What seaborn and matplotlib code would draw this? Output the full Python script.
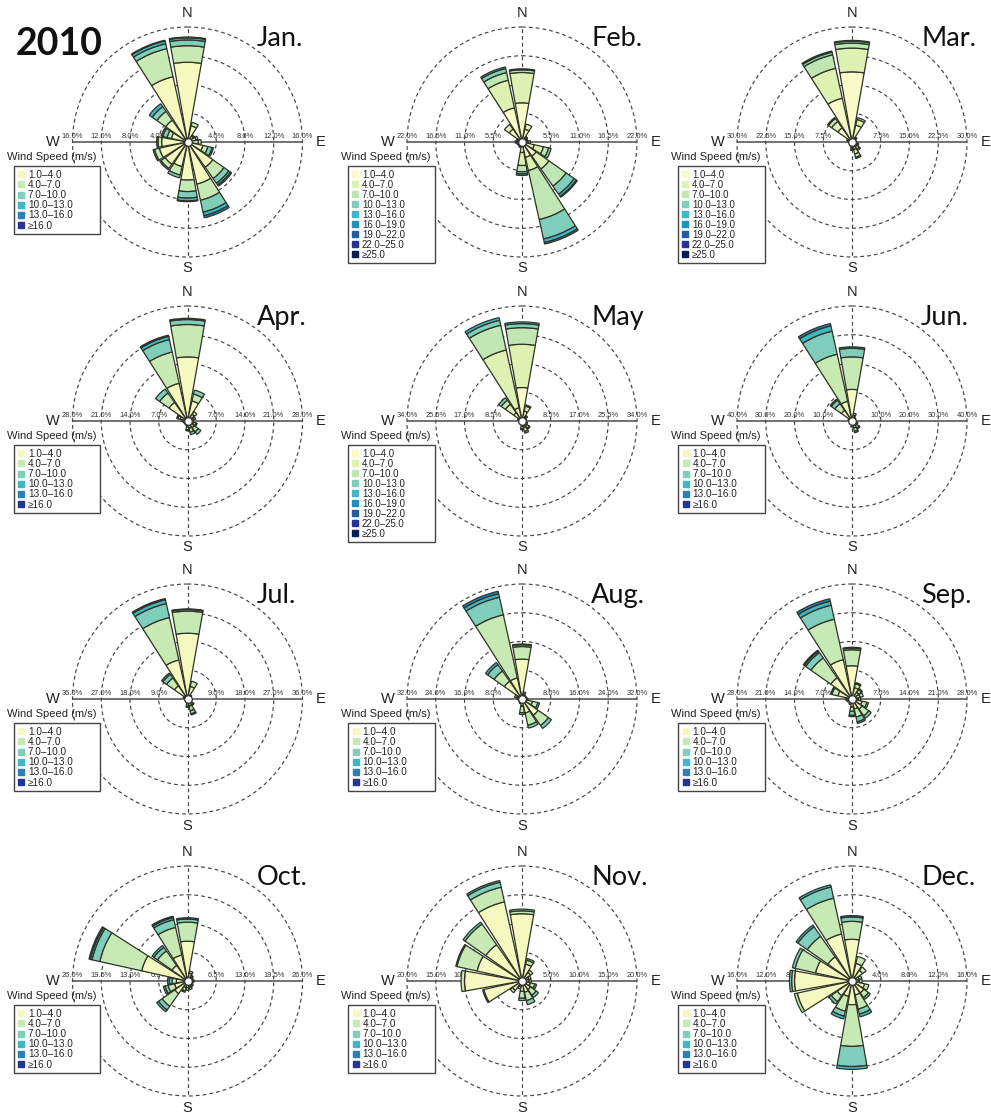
import numpy as np
import matplotlib
matplotlib.use("Agg")
import matplotlib.pyplot as plt
import matplotlib.transforms as mtransforms
from matplotlib.lines import Line2D
import seaborn as sns

sns.set_theme(style="white")
plt.rcParams['font.family'] = ['Liberation Sans', 'DejaVu Sans']

# 16 compass sectors, clockwise from north
DIRECTIONS = ["N", "NNE", "NE", "ENE", "E", "ESE", "SE", "SSE",
              "S", "SSW", "SW", "WSW", "W", "WNW", "NW", "NNW"]
MONTHS = ["Jan.", "Feb.", "Mar.", "Apr.", "May", "Jun.",
          "Jul.", "Aug.", "Sep.", "Oct.", "Nov.", "Dec."]
# outer ring (%) of each rose
RMAX = [16, 22, 30, 28, 34, 40, 36, 32, 28, 26, 20, 16]
N_BINS = [6, 9, 9, 6, 9, 6, 6, 6, 6, 6, 6, 6]
BINS_6 = ["1.0\u20134.0", "4.0\u20137.0", "7.0\u201310.0", "10.0\u201313.0",
          "13.0\u201316.0", "\u226516.0"]
BINS_9 = ["1.0\u20134.0", "4.0\u20137.0", "7.0\u201310.0", "10.0\u201313.0",
          "13.0\u201316.0", "16.0\u201319.0", "19.0\u201322.0", "22.0\u201325.0",
          "\u226525.0"]
# YlGnBu class colours for the two binnings
COLORS_6 = ["#f6f9bf", "#c7e9b4", "#7fcdbb", "#41b6c4", "#2c7fb8", "#253494"]
COLORS_9 = ["#f8fbc8", "#dff1b2", "#c0e6b4", "#7fcdbb", "#41b6c4",
            "#1d91c0", "#225ea8", "#253494", "#081d58"]

# frequency (%) per direction, split by speed class (lowest class first)
JAN = [[11.1, 2.3, 0.8, 0.3, 0.1], [2.3, 0.5], [1.0, 0.2], [1.2, 0.3],
       [1.5, 0.4], [2.2, 0.7, 0.6, 0.2], [4.3, 1.9, 0.8, 0.3, 0.2], [6.0, 2.3, 1.7, 0.5, 0.3],
       [5.3, 1.6, 0.9, 0.4, 0.1], [3.5, 1.2, 0.4], [3.8, 0.7, 0.2], [4.0, 0.7, 0.2],
       [3.6, 0.5, 0.2], [2.3, 0.6, 0.6, 0.2], [3.7, 1.5, 0.8, 0.5], [9.3, 4.0, 0.7, 0.4, 0.1]]
FEB = [[7.5, 5.8, 0.5, 0.2], [2.5, 1.0], [1.0, 0.3], [0.8, 0.3],
       [1.2, 0.4], [2.4, 1.8, 1.0, 0.5], [3.3, 3.0, 4.0, 1.9, 0.5, 0.2], [3.0, 2.6, 9.6, 3.8, 0.7, 0.3],
       [2.0, 2.5, 1.2, 0.4, 0.3], [0.8, 0.3], [0.7, 0.2], [0.8, 0.2],
       [1.0, 0.3], [0.8, 0.3], [3.0, 1.1], [6.7, 5.4, 1.5, 0.8, 0.3]]
MAR = [[18.3, 6.2, 1.3, 0.5, 0.2], [4.5, 1.5, 0.5], [1.2, 0.4], [0.8, 0.3],
       [0.8, 0.3], [1.0, 0.5, 0.3], [1.5, 0.8, 0.4], [2.0, 1.2, 0.9, 0.3],
       [1.3, 0.6, 0.3], [0.8, 0.3], [0.6, 0.2], [0.6, 0.2],
       [0.8, 0.2], [1.0, 0.4], [4.5, 2.0, 1.0, 0.3], [11.7, 8.0, 3.6, 0.7, 0.3]]
APR = [[15.6, 7.9, 1.2, 0.3], [5.0, 1.7, 1.0], [2.0, 0.8], [1.5, 0.5],
       [1.0, 0.3], [1.5, 0.6, 0.3], [2.0, 1.2, 0.8], [1.8, 1.0, 0.6],
       [1.5, 0.6, 0.3], [0.8, 0.3], [0.7, 0.2], [0.8, 0.2],
       [1.0, 0.3], [1.8, 0.6, 0.3], [5.5, 2.8, 1.2], [9.4, 7.8, 3.1, 0.8, 0.3]]
MAY = [[9.9, 12.8, 4.9, 1.2, 0.5], [3.0, 1.5, 0.4], [1.5, 0.5], [1.0, 0.4],
       [1.0, 0.3], [1.2, 0.5], [1.8, 0.8, 0.3], [2.0, 1.2, 0.5],
       [1.5, 0.8, 0.3], [0.8, 0.3], [0.6, 0.2], [0.5, 0.2],
       [0.6, 0.2], [1.0, 0.4], [3.0, 3.0, 1.5, 0.9], [4.0, 17.5, 7.5, 1.5, 0.8]]
JUN = [[11.0, 11.3, 3.0, 0.5], [2.0, 0.8], [1.2, 0.4], [1.0, 0.3],
       [1.0, 0.3], [1.5, 0.6], [2.0, 1.0, 0.4], [2.5, 1.2, 0.5],
       [1.5, 0.6], [1.0, 0.3], [0.8, 0.2], [0.6, 0.2],
       [0.6, 0.2], [1.0, 0.4], [4.5, 2.8, 1.5, 0.5], [7.0, 16.8, 8.2, 1.9, 0.8]]
JUL = [[20.6, 6.9, 0.5, 0.2], [4.0, 1.7], [1.2, 0.4], [0.8, 0.3],
       [0.8, 0.3], [1.0, 0.4], [1.5, 0.7, 0.3], [2.3, 1.5, 1.0, 0.3],
       [1.5, 0.8, 0.3], [0.8, 0.3], [0.6, 0.2], [0.6, 0.2],
       [0.6, 0.2], [1.0, 0.4], [5.0, 3.0, 1.4, 0.5], [12.5, 13.6, 4.5, 1.2, 0.4]]
AUG = [[11.1, 3.5, 0.5, 0.2], [1.5, 0.5], [1.0, 0.3], [1.0, 0.3],
       [1.2, 0.4], [3.0, 1.5, 0.5], [5.5, 3.5, 1.0], [4.0, 3.5, 0.8],
       [2.0, 1.8, 0.5], [1.0, 0.4], [0.8, 0.3], [0.8, 0.2],
       [1.0, 0.3], [1.5, 0.6], [6.0, 3.5, 2.2, 0.7], [6.0, 18.0, 5.0, 1.0, 0.7]]
SEP = [[8.1, 3.9, 0.4, 0.2], [2.8, 1.0, 0.3], [2.0, 0.8, 0.3], [2.0, 0.8],
       [1.5, 0.6], [2.5, 1.2, 0.4], [3.0, 2.0, 0.7], [2.5, 2.0, 1.2, 0.4],
       [2.0, 1.0, 1.0, 0.3], [1.0, 0.4], [0.8, 0.3], [1.0, 0.3],
       [1.2, 0.4], [3.5, 1.5, 0.3], [6.3, 5.9, 1.6, 0.4, 0.3], [9.8, 10.1, 3.5, 1.0, 0.6]]
OCT = [[9.0, 4.3, 0.7, 0.3], [1.8, 0.5], [1.2, 0.4], [1.0, 0.3],
       [1.2, 0.3], [1.0, 0.3], [1.2, 0.4], [1.5, 0.5],
       [1.5, 0.6], [1.5, 0.8, 0.3], [3.5, 3.5, 1.0, 0.5], [3.0, 1.5, 0.7, 0.4],
       [2.5, 1.0, 0.6, 0.4], [10.6, 9.7, 1.8, 0.4, 0.3], [4.3, 4.0, 1.0, 0.5], [6.0, 6.4, 1.8, 0.5, 0.3]]
NOV = [[11.7, 0.5, 0.3], [3.0, 0.7, 0.3], [1.8, 0.5], [1.2, 0.4],
       [1.2, 0.4], [1.5, 0.8, 0.3], [1.8, 1.2, 0.5], [2.0, 1.5, 0.7],
       [1.8, 1.2, 0.4], [1.0, 0.4], [2.0, 0.5], [6.8, 0.2],
       [10.0, 0.6], [8.0, 3.6, 0.2], [7.7, 4.4, 0.4], [14.1, 2.6, 0.9, 0.3]]
DEC = [[5.8, 2.5, 0.6, 0.2], [2.5, 1.0], [1.8, 0.6], [1.0, 0.4],
       [1.0, 0.4], [1.8, 0.6], [2.0, 0.8, 0.3], [2.0, 2.0, 0.7, 0.4],
       [3.3, 5.8, 2.8, 0.4], [2.2, 2.1, 0.7, 0.4], [2.5, 1.0, 0.4], [7.8, 0.4],
       [8.0, 0.4, 0.3], [5.2, 2.9, 0.4], [4.1, 3.5, 1.6, 0.3], [6.7, 5.1, 1.6, 0.3]]

MONTH_DATA = [JAN, FEB, MAR, APR, MAY, JUN, JUL, AUG, SEP, OCT, NOV, DEC]

# ---- layout (pixels) ----
W_PX, H_PX = 991, 1115
COL_X = [187.5, 522, 852]
ROW_Y = [142, 421, 699, 981]
R_PX = 115

fig = plt.figure(figsize=(W_PX / 100, H_PX / 100), dpi=100)
fig.patch.set_facecolor("white")

theta = np.deg2rad(np.arange(len(DIRECTIONS)) * 22.5)
bar_width = np.deg2rad(20)
dash = (0, (3.2, 2.6))

for i, (month, data) in enumerate(zip(MONTHS, MONTH_DATA)):
    cx, cy = COL_X[i % 3], ROW_Y[i // 3]
    ax = fig.add_axes([(cx - R_PX) / W_PX, 1 - (cy + R_PX) / H_PX,
                       2 * R_PX / W_PX, 2 * R_PX / H_PX], projection="polar")
    ax.set_theta_zero_location("N")
    ax.set_theta_direction(-1)
    rmax = RMAX[i]
    ax.set_ylim(0, rmax)
    ticks = rmax * np.arange(1, 5) / 4
    ax.set_yticks(ticks)
    ax.set_yticklabels([])
    ax.tick_params(axis="y", length=0)
    ax.set_xticks(np.deg2rad([0, 90, 180, 270]))
    ax.set_xticklabels([])
    ax.grid(True)
    ax.set_axisbelow(True)
    for gl in ax.yaxis.get_gridlines():
        gl.set(linestyle=dash, color="#444444", linewidth=0.85)
        gl.set_clip_on(False)
    for k, gl in enumerate(ax.xaxis.get_gridlines()):
        if k % 2 == 0:
            gl.set(linestyle=dash, color="#444444", linewidth=0.85)
        else:
            gl.set(linestyle="-", color="#5a5a5a", linewidth=1.2)
    ax.spines["polar"].set_visible(False)
    ax.set_facecolor("white")

    nb = N_BINS[i]
    colors = sns.color_palette(COLORS_6 if nb == 6 else COLORS_9)
    labels = BINS_6 if nb == 6 else BINS_9

    bottoms = np.zeros(len(DIRECTIONS))
    for b in range(nb):
        vals = np.array([row[b] if b < len(row) else 0.0 for row in data])
        mask = vals > 0
        if mask.any():
            ax.bar(theta[mask], vals[mask], width=bar_width, bottom=bottoms[mask],
                   color=colors[b], edgecolor="#2e3326", linewidth=0.9,
                   align="center", zorder=3)
        bottoms += vals
    ax.scatter([0], [0], s=30, facecolor="white", edgecolor="#333333",
               linewidth=0.9, zorder=6)

    # ring labels along the W-E axis
    lab_tr = mtransforms.offset_copy(ax.transData, fig=fig, y=1.5, units="points")
    for t in ticks:
        for side in (90, 270):
            ax.text(np.deg2rad(side), t, f"{t:.1f}%", transform=lab_tr,
                    ha="center", va="bottom", fontsize=5.4, color="#333333",
                    zorder=2)

    # compass letters
    ax.text(0, rmax * 1.12, "N", ha="center", va="center", fontsize=10.5, color="#222222")
    ax.text(np.pi, rmax * 1.10, "S", ha="center", va="center", fontsize=10.5, color="#222222")
    ax.text(np.deg2rad(270), rmax * 1.17, "W", ha="center", va="center", fontsize=10.5, color="#222222")
    ax.text(np.deg2rad(90), rmax * 1.16, "E", ha="center", va="center", fontsize=10.5, color="#222222")

    # month label
    ax.text(0.80, 0.948, month, transform=ax.transAxes, ha="left", va="center",
            fontsize=19.5, family=["Lato", "DejaVu Sans"], color="#111111")

    # speed legend
    ax.text(-0.285, 0.435, "Wind Speed (m/s)", transform=ax.transAxes,
            ha="left", va="center", fontsize=8.0, color="#222222")
    handles = [Line2D([], [], marker="s", linestyle="none", markersize=4.2,
                      markerfacecolor=c, markeredgecolor=c) for c in colors]
    leg = ax.legend(handles, labels, loc="upper left",
                    bbox_to_anchor=(-0.2565, 0.395, 0.378, 0.0), mode="expand",
                    fontsize=7.2 if nb == 6 else 6.9, frameon=True, fancybox=False,
                    framealpha=1.0, borderpad=0.35,
                    labelspacing=0.02 if nb == 6 else 0.0,
                    handletextpad=0.3, handlelength=0.8, borderaxespad=0.0)
    leg.get_frame().set_edgecolor("#444444")
    leg.get_frame().set_linewidth(1.0)
    for txt in leg.get_texts():
        txt.set_color("#222222")

fig.text(16 / W_PX, 1 - 44 / H_PX, "2010", ha="left", va="center",
         fontsize=27, fontweight="bold", family=["Lato", "DejaVu Sans"], color="#111111")

fig.savefig("out.png", dpi=100, facecolor="white")
